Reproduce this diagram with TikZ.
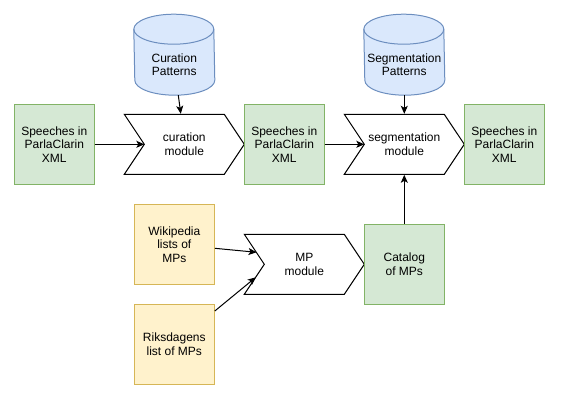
\documentclass[tikz,border=0pt]{standalone}
\usepackage{fontspec}
\setmainfont{Liberation Sans}
\usetikzlibrary{shapes.symbols,arrows.meta,calc}
\definecolor{greenfill}{HTML}{D5E8D4}
\definecolor{greenline}{HTML}{82B366}
\definecolor{yellowfill}{HTML}{FFF2CC}
\definecolor{yellowline}{HTML}{D6B656}
\definecolor{bluefill}{HTML}{DAE8FC}
\definecolor{blueline}{HTML}{6C8EBF}

\begin{document}
\begin{tikzpicture}[x=1pt,y=-1pt,line width=1pt]
        \tikzstyle{every node} = [font=\fontsize{12}{13.5}\selectfont, align=center, inner sep=0pt]
        \tikzstyle{doc} = [rectangle, draw=greenline, fill=greenfill, minimum width=80pt, minimum height=80pt]
        \tikzstyle{src} = [rectangle, draw=yellowline, fill=yellowfill, minimum width=80pt, minimum height=80pt]
        \tikzstyle{db} = [rectangle, minimum width=80pt, minimum height=80pt]
        \tikzstyle{dbline} = [draw=blueline, fill=bluefill]
        \tikzstyle{module} = [signal, signal from=west, signal to=east, signal pointer angle=112.6, draw, fill=white, minimum width=120pt, minimum height=60pt]
        \tikzstyle{flow} = [-{Stealth[length=8pt, width=7pt, inset=2pt]}]
        \useasboundingbox (0,0) rectangle (571,412);
        % top row
        \node[doc] (sp1) at (54.3,144.3) {Speeches in\\ParlaClarin\\XML};
        \node[module] (cur) at (184.3,144.3) {curation\\module};
        \node[doc] (sp2) at (284.3,144.3) {Speeches in\\ParlaClarin\\XML};
        \node[module] (seg) at (404.3,144.3) {segmentation\\module};
        \node[doc] (sp3) at (504.3,144.3) {Speeches in\\ParlaClarin\\XML};
        % pattern stores
        \node[db] (cp) at (174.3,54.7) {};
        \node[db] (sgp) at (404.3,54.7) {};
        \foreach \s in {cp, sgp} {
            \draw[dbline] ($(\s.north west)+(0,15)$) arc[start angle=180, end angle=0, x radius=40pt, y radius=15pt]
                -- ($(\s.south east)+(0,-15)$) arc[start angle=0, end angle=-180, x radius=40pt, y radius=15pt] -- cycle;
            \draw[blueline] ($(\s.north west)+(0,15)$) arc[start angle=180, end angle=360, x radius=40pt, y radius=15pt];
        }
        \node at ($(cp.center)+(0,10)$) {Curation\\Patterns};
        \node at ($(sgp.center)+(0,10)$) {Segmentation\\Patterns};
        % MP lists
        \node[src] (wiki) at (174.3,244.3) {Wikipedia\\lists of\\MPs};
        \node[src] (riks) at (174.3,344.3) {Riksdagens\\list of MPs};
        \node[module] (mp) at (304.3,264.3) {MP\\module};
        \node[doc] (cat) at (404.3,264.3) {Catalog\\of MPs};
        \coordinate (curin) at ($(cur.center)+(-40,0)$);
        \coordinate (segin) at ($(seg.center)+(-40,0)$);
        \foreach \from/\to in {sp1.east/curin, sp2.east/segin, sgp.south/seg.north, cat.north/seg.south}
            \draw[flow] (\from) -- (\to);
        \draw[flow] ($(cp.south)+(4,0)$) -- ($(cur.north)+(-3.5,0)$);
        \draw[flow] ($(wiki.east)+(0,4)$) -- ($(mp.center)+(-47.8,-12)$);
        \draw[flow] ($(riks.east)+(0,-33.3)$) -- ($(mp.center)+(-48.5,13)$);
    	\end{tikzpicture}
\end{document}
